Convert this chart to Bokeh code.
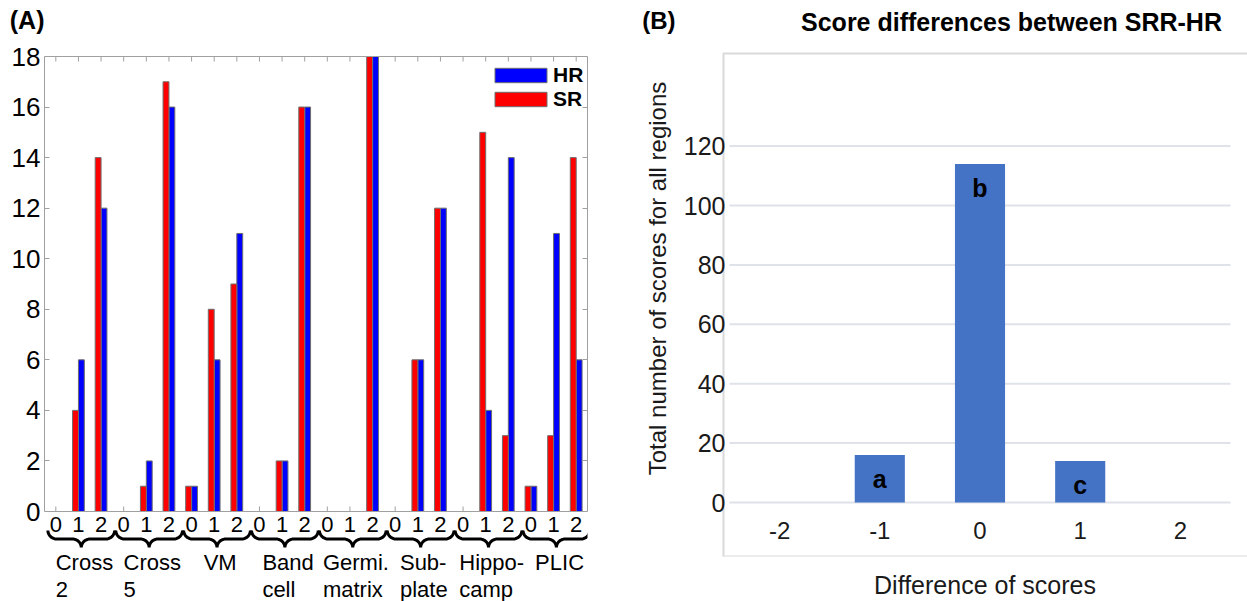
import numpy as np
from bokeh.plotting import figure
from bokeh.layouts import row
from bokeh.models import Range1d, FixedTicker, LinearAxis, Span
from bokeh.core.properties import value
from bokeh.embed import file_html
from bokeh.resources import INLINE

# ---------------- data ----------------
region_line1 = ["Cross", "Cross", "VM", "Band", "Germi.", "Sub-", "Hippo-", "PLIC"]
region_line2 = ["2", "5", "", "cell", "matrix", "plate", "camp", ""]
score_levels = ["0", "1", "2"]
sr_counts = [0, 4, 14, 0, 1, 17, 1, 8, 9, 0, 2, 16, 0, 0, 18, 0, 6, 12, 0, 15, 3, 1, 3, 14]
hr_counts = [0, 6, 12, 0, 2, 16, 1, 6, 11, 0, 2, 16, 0, 0, 18, 0, 6, 12, 0, 4, 14, 1, 11, 6]
a_yticks = [0, 2, 4, 6, 8, 10, 12, 14, 16, 18]

diff_labels = ["-2", "-1", "0", "1", "2"]
diff_values = [-2, -1, 0, 1, 2]
diff_totals = [0, 16, 114, 14, 0]
diff_letters = ["", "a", "b", "c", ""]
b_yticks = [0, 20, 40, 60, 80, 100, 120]

title_a = "(A)"
title_b = "(B)"
title_b_main = "Score differences between SRR-HR"

FONT = "Liberation Sans"
F = value(FONT)
GREY = "#a0a0a0"
W, H = 1247, 601

# approximate advance widths (em) of the sans font, used to centre the two-line group labels
ADV = {"C": .722, "r": .333, "o": .556, "s": .5, "V": .667, "M": .833, "B": .667, "a": .556,
       "n": .556, "d": .556, "G": .778, "e": .556, "m": .833, "i": .222, ".": .278, "S": .667,
       "u": .556, "b": .556, "-": .333, "H": .722, "p": .556, "c": .5, "P": .667, "L": .556,
       "I": .278, "t": .278, "x": .5, "l": .222, "2": .556, "5": .556}

def text_w(s, size):
    return sum(ADV.get(ch, .556) for ch in s) * size

# ---------------- panel A ----------------
WA = 620
a_left, a_right = 44, WA - 587
a_frame_w = WA - a_left - a_right
top_px = 56                       # page y of the value 18
zero_px = 511                     # page y of the value 0
ymax = 18
ppu_y = (zero_px - top_px) / ymax
n_cat = len(sr_counts)
ppu_x = a_frame_w / n_cat
ya_hi = ymax + top_px / ppu_y     # frame reaches the top of the canvas
ya_lo = -(H - zero_px) / ppu_y

def ay_px(py):
    return (zero_px - py) / ppu_y

pA = figure(width=WA, height=H, x_range=Range1d(-0.5, n_cat - 0.5), y_range=Range1d(ya_lo, ya_hi),
            x_axis_location=None, output_backend="svg", toolbar_location=None,
            min_border_left=a_left, min_border_right=a_right, min_border_top=0, min_border_bottom=0)
pA.frame_align = False
pA.outline_line_color = None
pA.grid.visible = False

idx = np.arange(n_cat)

ya = pA.yaxis[0]
ya.ticker = FixedTicker(ticks=a_yticks)
ya.bounds = (0, ymax)
ya.major_tick_in = 5
ya.major_tick_out = 0
ya.minor_tick_line_color = None
ya.axis_line_color = GREY
ya.major_tick_line_color = GREY
ya.major_label_text_font = FONT
ya.major_label_text_font_size = "26px"
ya.major_label_text_color = "black"
ya.major_label_standoff = 4

# panel tag "(A)" as the only tick label of an outer left axis
y_tag_a = round(ay_px(19), 2)
tag_a = LinearAxis(ticker=FixedTicker(ticks=[y_tag_a]), major_label_overrides={y_tag_a: title_a})
tag_a.axis_line_color = None
tag_a.major_tick_line_color = None
tag_a.minor_tick_line_color = None
tag_a.major_tick_in = 0
tag_a.major_tick_out = 0
tag_a.major_label_standoff = -36
tag_a.major_label_text_font = FONT
tag_a.major_label_text_font_size = "25px"
tag_a.major_label_text_font_style = "bold"
tag_a.major_label_text_color = "black"
pA.add_layout(tag_a, "left")

ra = LinearAxis(ticker=FixedTicker(ticks=a_yticks), bounds=(0, ymax))
ra.major_label_overrides = {t: "" for t in a_yticks}
ra.major_tick_in = 5
ra.major_tick_out = 0
ra.minor_tick_line_color = None
ra.axis_line_color = GREY
ra.major_tick_line_color = GREY
pA.add_layout(ra, "right")

# top and bottom border lines with inward category ticks
pA.add_layout(Span(location=ymax, dimension="width", line_color=GREY, line_width=1))
pA.add_layout(Span(location=0, dimension="width", line_color=GREY, line_width=1))
pA.segment(x0=idx, y0=0, x1=idx, y1=5 / ppu_y, line_color=GREY, line_width=1)
pA.segment(x0=idx, y0=ymax, x1=idx, y1=ymax - 5 / ppu_y, line_color=GREY, line_width=1)

bw = 0.26
pA.vbar(x=idx + 0.13, top=hr_counts, width=bw, fill_color="#0000FF", line_color="#6e6e6e",
        line_width=1, legend_label="HR")
pA.vbar(x=idx - 0.13, top=sr_counts, width=bw, fill_color="#FF0000", line_color="#6e6e6e",
        line_width=1, legend_label="SR")

leg = pA.legend[0]
leg_h = 2 * 2 + 2 * 24
leg.location = (488 - a_left, H - (59 + leg_h))
leg.border_line_color = None
leg.background_fill_alpha = 0
leg.glyph_width = 65
leg.glyph_height = 18
leg.label_text_font = FONT
leg.label_text_font_size = "21px"
leg.label_text_font_style = "bold"
leg.label_text_color = "black"
leg.label_standoff = 0
leg.label_height = 14
leg.spacing = 0
leg.padding = 2
leg.margin = 0

pA.text(x=idx, y=[0] * n_cat, text=score_levels * (n_cat // 3), y_offset=13,
        text_align="center", text_baseline="middle", text_font_size="22px",
        text_font=F, text_color="black")

def brace(xa_d, xb_d):
    top, mid, bot, r = 19.0, 27.5, 36.0, 9.0
    x0 = xa_d * ppu_x
    x1 = xb_d * ppu_x
    xm = (x0 + x1) / 2
    t = np.linspace(0, np.pi / 2, 12)
    lx1 = x0 + r - r * np.cos(t); ly1 = top + (mid - top) * np.sin(t)
    lx2 = xm - r + r * np.sin(t); ly2 = bot - (bot - mid) * np.cos(t)
    rx2 = xm + r - r * np.sin(t[::-1]); ry2 = bot - (bot - mid) * np.cos(t[::-1])
    rx1 = x1 - r + r * np.cos(t[::-1]); ry1 = top + (mid - top) * np.sin(t[::-1])
    xs = np.concatenate([lx1, lx2, rx2, rx1])
    ys = np.concatenate([ly1, ly2, ry2, ry1])
    return list(xs / ppu_x), list(-ys / ppu_y)

n_grp = len(region_line1)
bxs, bys = [], []
for g in range(n_grp):
    bx, by = brace(g * 3 - 0.5 + 0.15, g * 3 + 2.5 + 0.1)
    bxs.append(bx); bys.append(by)
pA.multi_line(xs=bxs, ys=bys, line_color="black", line_width=3)

LBL = 22
gx = []
for g in range(n_grp):
    block_w = max(text_w(region_line1[g], LBL), text_w(region_line2[g], LBL))
    gx.append(g * 3 + 1 + (6 - block_w / 2) / ppu_x)
pA.text(x=gx, y=[0] * n_grp, text=region_line1, y_offset=51, text_align="left",
        text_baseline="middle", text_font_size=f"{LBL}px", text_font=F, text_color="black")
pA.text(x=gx, y=[0] * n_grp, text=region_line2, y_offset=78, text_align="left",
        text_baseline="middle", text_font_size=f"{LBL}px", text_font=F, text_color="black")

# ---------------- panel B ----------------
WB = W - WA
b_left, b_bottom = 722 - WA, 45
b_frame_w = WB - b_left
b_frame_h = H - b_bottom          # frame reaches the top of the canvas
ppu_bx = 100.2
ppu_by = 2.97
zero_b = 502                      # page y of the zero line
xb_lo = -2.5 - 7 / ppu_bx
xb_hi = xb_lo + b_frame_w / ppu_bx
yb_hi = zero_b / ppu_by
yb_lo = yb_hi - b_frame_h / ppu_by

def by_px(py):
    return (zero_b - py) / ppu_by

def bx_px(px):
    return xb_lo + (px - 722) / ppu_bx

pB = figure(width=WB, height=H, x_range=Range1d(xb_lo, xb_hi), y_range=Range1d(yb_lo, yb_hi),
            output_backend="svg", toolbar_location=None,
            min_border_left=b_left, min_border_right=0, min_border_top=0, min_border_bottom=b_bottom)
pB.frame_align = False
pB.outline_line_color = None
pB.grid.visible = False

BOX = "#d9d9d9"
pB.add_layout(Span(location=by_px(53), dimension="width", line_color=BOX, line_width=2))
pB.add_layout(Span(location=yb_lo, dimension="width", line_color=BOX, line_width=2))
pB.segment(x0=[xb_lo], y0=[yb_lo], x1=[xb_lo], y1=[by_px(53)], line_color=BOX, line_width=4)

pB.text(x=[bx_px(1011)], y=[by_px(21)], text=[title_b_main], text_align="center",
        text_baseline="middle", text_font_size="25px", text_font_style="bold",
        text_font=F, text_color="black")

n_b = len(diff_values)
pB.segment(x0=[diff_values[0] - 0.5] * len(b_yticks), y0=b_yticks,
           x1=[diff_values[-1] + 0.5] * len(b_yticks), y1=b_yticks,
           line_color="#dfe2e8", line_width=2)

pB.vbar(x=diff_values, top=diff_totals, width=0.5, fill_color="#4472C4", line_color=None)
pB.text(x=diff_values, y=diff_totals, text=diff_letters, y_offset=24, text_align="center",
        text_baseline="middle", text_font_size="25px", text_font_style="bold",
        text_font=F, text_color="black")
pB.text(x=diff_values, y=[0] * n_b, text=diff_labels, y_offset=28, text_align="center",
        text_baseline="middle", text_font_size="24px", text_font=F, text_color="#1a1a1a")

yb = pB.yaxis[0]
yb.ticker = FixedTicker(ticks=b_yticks)
yb.axis_line_color = None
yb.major_tick_line_color = None
yb.minor_tick_line_color = None
yb.major_tick_out = 0
yb.major_tick_in = 0
yb.major_label_standoff = -3
yb.major_label_text_font = FONT
yb.major_label_text_font_size = "25px"
yb.major_label_text_color = "#1a1a1a"
yb.axis_label = "Total number of scores for all regions"
yb.axis_label_text_font = FONT
yb.axis_label_text_font_size = "24px"
yb.axis_label_text_font_style = "normal"
yb.axis_label_text_color = "#1a1a1a"
yb.axis_label_standoff = 10

# panel tag "(B)" as the only tick label of an outer left axis
y_tag_b = round(by_px(20), 2)
tag_b = LinearAxis(ticker=FixedTicker(ticks=[y_tag_b]), major_label_overrides={y_tag_b: title_b})
tag_b.axis_line_color = None
tag_b.major_tick_line_color = None
tag_b.minor_tick_line_color = None
tag_b.major_tick_in = 0
tag_b.major_tick_out = 0
tag_b.major_label_standoff = -35
tag_b.major_label_text_font = FONT
tag_b.major_label_text_font_size = "24px"
tag_b.major_label_text_font_style = "bold"
tag_b.major_label_text_color = "black"
pB.add_layout(tag_b, "left")

xb = pB.below[0]
xb.ticker = FixedTicker(ticks=[])
xb.axis_line_color = None
xb.major_tick_line_color = None
xb.minor_tick_line_color = None
xb.axis_label = "Difference of scores"
xb.axis_label_text_font = FONT
xb.axis_label_text_font_size = "25px"
xb.axis_label_text_font_style = "normal"
xb.axis_label_text_color = "#1a1a1a"
xb.axis_label_standoff = 14

layout = row(pA, pB)
open("out.html", "w").write(file_html(layout, INLINE))
